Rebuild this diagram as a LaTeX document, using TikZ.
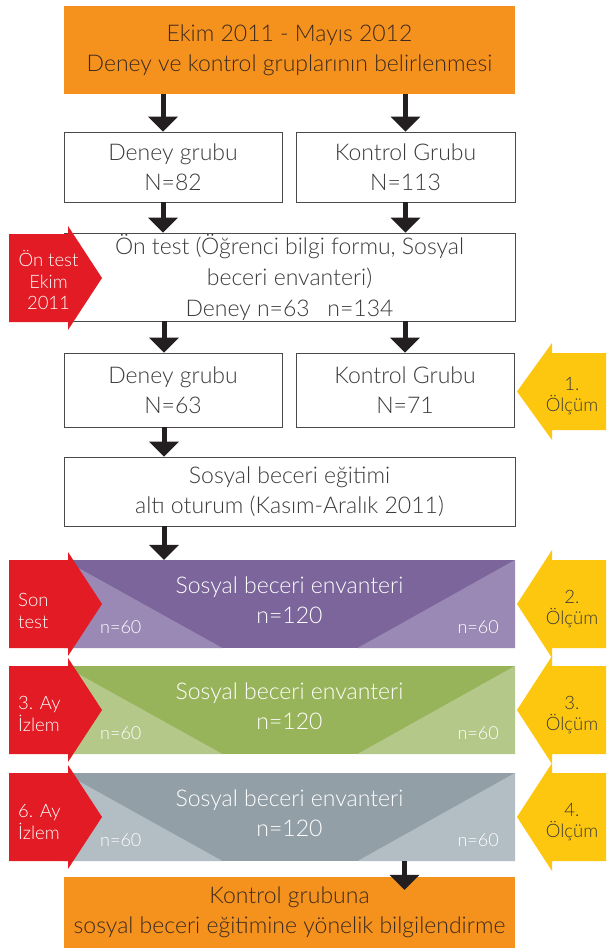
\documentclass[tikz,border=0pt]{standalone}
\usepackage{fontspec}
\IfFontExistsTF{Lato Light}{\setmainfont{Lato Light}}{\setmainfont{Lato}}
\usetikzlibrary{arrows.meta,calc}
\definecolor{orng}{HTML}{F5921E}
\definecolor{txt}{HTML}{3A3A3A}
\definecolor{txtb}{HTML}{3B2A1E}
\definecolor{purp}{HTML}{7B659B}
\definecolor{purpl}{HTML}{9B89B5}
\definecolor{grn}{HTML}{98B45A}
\definecolor{grnl}{HTML}{B4C88A}
\definecolor{gry}{HTML}{929FA7}
\definecolor{gryl}{HTML}{B2BDC4}
\definecolor{redc}{HTML}{E21B24}
\definecolor{yel}{HTML}{FDC70F}
\definecolor{arr}{HTML}{231F20}
\definecolor{frame}{HTML}{4A4A4A}
\begin{document}
\begin{tikzpicture}[x=1pt,y=-1pt,
  mainfont/.style={font=\fontsize{23}{30}\selectfont},
  wbox/.style={draw=frame, line width=0.9pt, fill=white, text=txt, align=center, inner sep=0pt, mainfont},
  obox/.style={fill=orng, text=txtb, align=center, inner sep=0pt, mainfont},
  band/.style={inner sep=0pt, minimum width=451pt, minimum height=88pt},
  bandtext/.style={text=white, align=center, mainfont},
  small/.style={text=white, font=\fontsize{18}{20}\selectfont},
  redlabel/.style={text=white, font=\fontsize{18.5}{21.5}\selectfont, inner sep=0pt},
  yellabel/.style={text=txt, align=center, font=\fontsize{18.5}{21}\selectfont, inner sep=0pt},
  bigarrow/.style={draw=arr, line width=5pt, -{Triangle[width=29pt,length=15pt]}}
]
\fill[white] (0,0) rectangle (606,948);
\useasboundingbox (0,0) rectangle (606,948);

% boxes
\node[obox, minimum width=451pt, minimum height=88pt] (top) at (289.5,50)
  {Ekim 2011 - Mayıs 2012\\Deney ve kontrol gruplarının belirlenmesi};
\node[wbox, minimum width=218pt, minimum height=70pt] (d1) at (173,167) {Deney grubu\\N=82};
\node[wbox, minimum width=219pt, minimum height=70pt] (k1) at (405.5,167) {Kontrol Grubu\\N=113};
\node[wbox, minimum width=451pt, minimum height=88pt, font=\fontsize{23}{31}\selectfont] (on) at (289.5,277)
  {Ön test (Öğrenci bilgi formu, Sosyal\\beceri envanteri)\\Deney n=63\enspace\ n=134};
\node[wbox, minimum width=218pt, minimum height=74pt] (d2) at (173,390) {Deney grubu\\N=63};
\node[wbox, minimum width=218pt, minimum height=74pt] (k2) at (405,390) {Kontrol Grubu\\N=71};
\node[wbox, minimum width=451pt, minimum height=69pt] (eg) at (289.5,491.5)
  {Sosyal beceri eğitimi\\altı oturum (Kasım-Aralık 2011)};

% bands
\node[band, fill=purp] (b1) at (289.5,604) {};
\fill[purpl] (b1.north west) -- (b1.south west) -- ([xshift=159pt]b1.south west) -- cycle;
\fill[purpl] (b1.north east) -- (b1.south east) -- ([xshift=-158pt]b1.south east) -- cycle;
\node[band, fill=grn] (b2) at (289.5,710) {};
\fill[grnl] (b2.north west) -- (b2.south west) -- ([xshift=159pt]b2.south west) -- cycle;
\fill[grnl] (b2.north east) -- (b2.south east) -- ([xshift=-158pt]b2.south east) -- cycle;
\node[band, fill=gry] (b3) at (289.5,817) {};
\fill[gryl] (b3.north west) -- (b3.south west) -- ([xshift=159pt]b3.south west) -- cycle;
\fill[gryl] (b3.north east) -- (b3.south east) -- ([xshift=-158pt]b3.south east) -- cycle;

\foreach \b in {b1,b2,b3}{
  \node[bandtext] at ([yshift=4pt]\b.center) {Sosyal beceri envanteri\\n=120};
  \node[small] at ([xshift=57pt,yshift=21pt]\b.south west) {n=60};
  \node[small] at ([xshift=-37pt,yshift=21pt]\b.south east) {n=60};
}

\node[obox, minimum width=451pt, minimum height=71pt] (bot) at (289.5,912.5)
  {Kontrol grubuna\\sosyal beceri eğitimine yönelik bilgilendirme};

% arrows
\draw[bigarrow] ([xshift=-10pt]d1.north |- top.south) -- ([xshift=-10pt]d1.north);
\draw[bigarrow] (k1.north |- top.south) -- (k1.north);
\draw[bigarrow] ([xshift=-10pt]d1.south) -- ([xshift=-10pt]d1.south |- on.north);
\draw[bigarrow] (k1.south) -- (k1.south |- on.north);
\draw[bigarrow] ([xshift=-9pt]d2.north |- on.south) -- ([xshift=-9pt]d2.north);
\draw[bigarrow] (k2.north |- on.south) -- (k2.north);
\draw[bigarrow] ([xshift=-9pt]d2.south) -- ([xshift=-9pt]d2.south |- eg.north);
\draw[bigarrow] ([xshift=-9pt]d2.south |- eg.south) -- ([xshift=-9pt]d2.south |- b1.north);
\draw[bigarrow] ([xshift=-0.5pt]k2.south |- b3.south) -- ([xshift=-0.5pt,yshift=-13pt]k2.south |- bot.north);

% red arrows
\foreach \t/\bb/\nm in {234/322/r1,560/648/r2,666/754/r3,773/861/r4}{
  \fill[redc] (9,\t) -- (68,\t) -- (68,\t-8) -- (102,{(\t+\bb)/2}) -- (68,\bb+8) -- (68,\bb) -- (9,\bb) -- cycle;
  \coordinate (\nm) at (18,{(\t+\bb)/2});
}
\node[redlabel, align=center] at (48.5,280) {Ön test\\Ekim\\2011};
\node[redlabel, align=left, anchor=west] at ([yshift=-7pt]r2) {Son\\test};
\node[redlabel, align=left, anchor=west] at ([yshift=-4pt]r3) {3. Ay\\İzlem};
\node[redlabel, align=left, anchor=west] at ([yshift=-5pt]r4) {6. Ay\\İzlem};

% yellow arrows
\foreach \t/\bb/\lab/\nm in {353/430/1./y1,560/648/2./y2,666/754/3./y3,773/861/4./y4}{
  \fill[yel] (606,\t) -- (552,\t) -- (552,\t-10) -- (517,{(\t+\bb)/2}) -- (552,\bb+10) -- (552,\bb) -- (606,\bb) -- cycle;
  \node[yellabel] (\nm) at (572,{(\t+\bb)/2+5}) {\lab\\Ölçüm};
}
\end{tikzpicture}
\end{document}
